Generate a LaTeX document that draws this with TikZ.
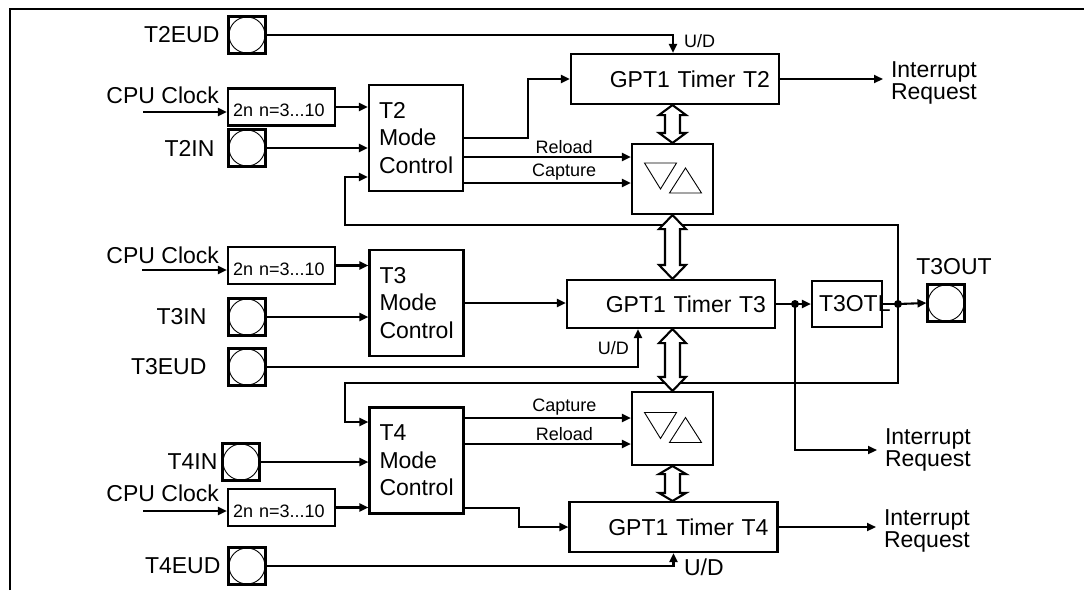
\documentclass[tikz,border=0pt]{standalone}
\usepackage{fontspec}
\setmainfont{Liberation Sans}
\usetikzlibrary{positioning,arrows.meta,calc}
% hollow two-headed bus arrow: upper end, lower end, head length
\newcommand{\busarrow}[3]{%
  \draw[fill=white] let \p1=(#1), \p2=(#2) in
    (\x1,\y1) -- (\x1+13.5pt,\y1-#3) -- (\x1+7.5pt,\y1-#3) -- (\x1+7.5pt,\y2+#3)
    -- (\x1+13.5pt,\y2+#3) -- (\x1,\y2) -- (\x1-13.5pt,\y2+#3) -- (\x1-7.5pt,\y2+#3)
    -- (\x1-7.5pt,\y1-#3) -- (\x1-13.5pt,\y1-#3) -- cycle;}

\begin{document}
\begin{tikzpicture}[x=1pt,y=-1pt,>={Triangle[length=9pt,width=8pt]},line width=2.1pt]
  \tikzstyle{lbl}=[font=\fontsize{23}{27}\selectfont,inner sep=0pt]
  \tikzstyle{sml}=[font=\fontsize{18}{20}\selectfont,inner sep=0pt]
  \tikzstyle{irq}=[font=\fontsize{23}{27}\selectfont,align=left,
    inner xsep=7pt,inner ysep=0pt,anchor=west]
  \tikzstyle{pinbox}=[draw,minimum size=37pt,inner sep=0pt,
    path picture={\draw[line width=0.9pt] (path picture bounding box.center) circle (18pt);}]
  \tikzstyle{divbox}=[draw,minimum width=107pt,minimum height=37pt,text width=97pt,
    inner xsep=5pt,align=left,text height=19pt,text depth=0pt,
    font=\fontsize{18}{20}\selectfont]
  \tikzstyle{modebox}=[draw,minimum width=94pt,minimum height=106pt,text width=74pt,
    inner xsep=10pt,align=left,font=\fontsize{23}{27.5}\selectfont]
  \tikzstyle{timerbox}=[draw,minimum width=208pt,minimum height=50pt,text width=190pt,
    inner xsep=9pt,align=right,font=\fontsize{23}{27}\selectfont]
  \tikzstyle{capbox}=[draw,minimum width=81pt,minimum height=70pt,
    path picture={
      \draw[line width=0.9pt] ([shift={(-28pt,16pt)}]path picture bounding box.center)
        -- ++(32pt,0pt) -- ++(-16pt,-26pt) -- cycle;
      \draw[line width=0.9pt] ([shift={(-3pt,-14pt)}]path picture bounding box.center)
        -- ++(32pt,0pt) -- ++(-16pt,25pt) -- cycle;}]
  \tikzstyle{otlbox}=[draw,minimum width=70pt,minimum height=46pt,text width=56pt,
    inner xsep=7pt,align=left,font=\fontsize{23}{27}\selectfont]
  \useasboundingbox (0,0) rectangle (1084,590);
  \draw[line width=2.5pt] (10,590) -- (10,9) -- (1084,9);

  % timer T2
  \node[pinbox] (t2eud) at (247,35) {};
  \node[lbl,left=7pt of t2eud] {T2EUD};
  \node[divbox] (t2div) at (281.5,107) {2n n=3...10};
  \coordinate (clk2) at (143,112);
  \node[lbl,anchor=base east] at (220,103) {CPU Clock};
  \node[pinbox] (t2in) at (247,148) {};
  \node[lbl,left=12pt of t2in] {T2IN};
  \node[modebox] (t2mode) at (416,138) {T2\\Mode\\Control};
  \node[timerbox] (t2tim) at (675,79) {GPT1 Timer T2};
  \node[capbox] (t2cap) at (672.5,179) {};
  \node[irq] (irq2) at (883,83) {Interrupt\\[-5pt]Request};
  \node[sml,anchor=base west] at (683,47) {U/D};
  \coordinate (rl2) at ([yshift=-19pt]t2mode.east);
  \coordinate (cp2) at ([yshift=-45pt]t2mode.east);
  \coordinate (fbin2) at ([yshift=-39pt]t2mode.west);
  \coordinate (fb2) at (345,225);

  % timer T3
  \node[divbox] (t3div) at (281.5,265.5) {2n n=3...10};
  \coordinate (clk3) at (142,270);
  \node[lbl,anchor=base east] at (220,263) {CPU Clock};
  \node[pinbox] (t3in) at (247,317) {};
  \node[lbl,left=20pt of t3in] {T3IN};
  \node[pinbox] (t3eud) at (247,367) {};
  \node[lbl,left=20pt of t3eud] {T3EUD};
  \node[modebox] (t3mode) at (416.5,303) {T3\\Mode\\Control};
  \node[timerbox,minimum height=48pt] (t3tim) at (671,304) {GPT1 Timer T3};
  \node[sml,anchor=base east] at (630,354) {U/D};
  \coordinate (j1) at (795,304);
  \node[otlbox] (t3otl) at (847,304) {T3OTL};
  \coordinate (j2) at (898,304);
  \node[pinbox] (t3out) at (946,303) {};
  \node[lbl,above=8pt of t3out,xshift=8pt] {T3OUT};
  \node[irq] (irq3) at (877,450) {Interrupt\\[-5pt]Request};

  % timer T4
  \node[capbox,minimum height=73pt] (t4cap) at (672.5,428.5) {};
  \node[modebox] (t4mode) at (416.5,460.5) {T4\\Mode\\Control};
  \node[pinbox] (t4in) at (241,462) {};
  \node[lbl,left=3pt of t4in] {T4IN};
  \node[divbox] (t4div) at (281.5,507.5) {2n n=3...10};
  \coordinate (clk4) at (143,511);
  \node[lbl,anchor=base east] at (220,501) {CPU Clock};
  \node[timerbox] (t4tim) at (673.5,527) {GPT1 Timer T4};
  \node[pinbox] (t4eud) at (247,566) {};
  \node[lbl,left=6pt of t4eud] {T4EUD};
  \node[lbl,anchor=base west] at (683,575) {U/D};
  \node[irq] (irq4) at (876,531) {Interrupt\\[-5pt]Request};
  \coordinate (cp4) at ([yshift=42.5pt]t4mode.east);
  \coordinate (rl4) at ([yshift=16.5pt]t4mode.east);
  \coordinate (out4) at ([yshift=-47.5pt]t4mode.east);
  \coordinate (fbin4) at ([yshift=38.5pt]t4mode.west);
  \coordinate (fb4) at (345,383);

  % connections T2
  \draw[->] (clk2) -- (clk2 -| t2div.west);
  \draw[->] (t2div.east) -- (t2div.east -| t2mode.west);
  \draw[->] (t2in.east) -- (t2in.east -| t2mode.west);
  \draw[->] (t2eud.east) -| ([xshift=-2pt]t2tim.north);
  \draw[->] (t2mode.east) -- ++(64,0) |- (t2tim.west);
  \draw[->] (rl2) -- (rl2 -| t2cap.west) node[sml,pos=0.6,above=2pt] {Reload};
  \draw[->] (cp2) -- (cp2 -| t2cap.west) node[sml,pos=0.6,above=2pt] {Capture};
  \draw[->] (t2tim.east) -- (t2tim.east -| irq2.west);
  \draw[->] (j2) |- (fb2) |- (fbin2);

  % connections T3
  \draw[->] (clk3) -- (clk3 -| t3div.west);
  \draw[->] (t3div.east) -- (t3div.east -| t3mode.west);
  \draw[->] (t3in.east) -- (t3in.east -| t3mode.west);
  \draw[->] (t3eud.east) -| ([xshift=-33pt]t3tim.south);
  \draw[->] (t3mode.east) -- (t3mode.east -| t3tim.west);
  \draw (t3tim.east) -- (j1);
  \draw[->] (j1) -- (t3otl.west);
  \draw (t3otl.east) -- (j2);
  \draw[->] (j2) -- (t3out.west);
  \draw[->] (j1) |- (irq3.west);
  \fill (j1) circle (4pt);
  \fill (j2) circle (4pt);

  % connections T4
  \draw[->] (clk4) -- (clk4 -| t4div.west);
  \draw[->] (t4div.east) -- (t4div.east -| t4mode.west);
  \draw[->] (t4in.east) -- (t4in.east -| t4mode.west);
  \draw[->] (cp4) -- (cp4 -| t4cap.west) node[sml,pos=0.6,above=2pt] {Capture};
  \draw[->] (rl4) -- (rl4 -| t4cap.west) node[sml,pos=0.6,above=2pt] {Reload};
  \draw[->] (out4) -- ++(54,0) |- (t4tim.west);
  \draw[->] (t4eud.east) -| (t4tim.south);
  \draw[->] (t4tim.east) -- (t4tim.east -| irq4.west);
  \draw[->] (j2) |- (fb4) |- (fbin4);

  % register buses
  \busarrow{t2tim.south -| t2cap}{t2cap.north}{10pt}
  \busarrow{t2cap.south}{t3tim.north -| t2cap}{14pt}
  \busarrow{t3tim.south -| t4cap}{t4cap.north}{14pt}
  \busarrow{t4cap.south}{t4tim.north -| t4cap}{8pt}
\end{tikzpicture}
\end{document}
